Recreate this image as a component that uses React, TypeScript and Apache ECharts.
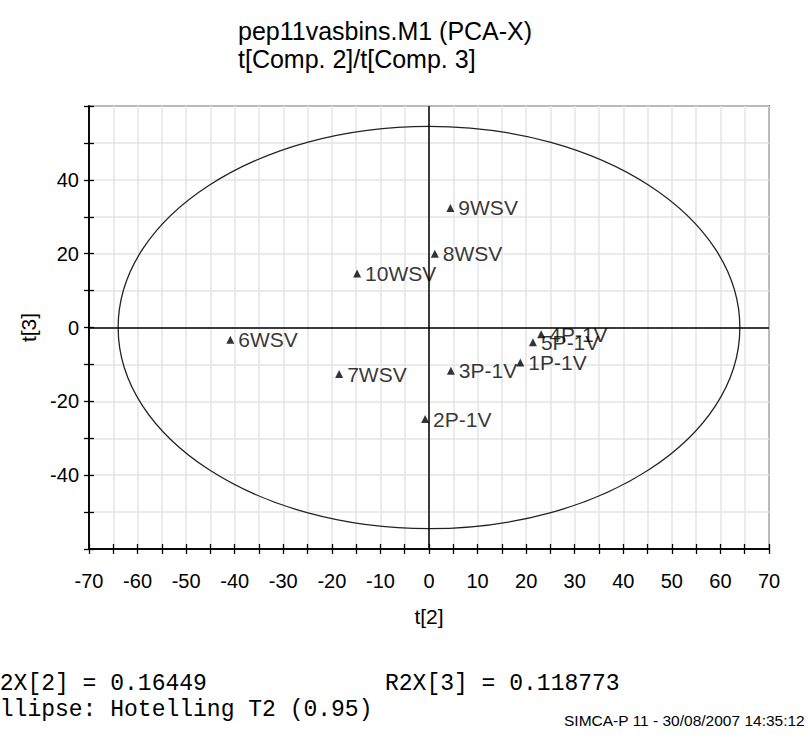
import React, { useEffect, useRef } from "react";
import * as echarts from "echarts";

const titleLines = ["pep11vasbins.M1 (PCA-X)", "t[Comp. 2]/t[Comp. 3]"];
const xName = "t[2]";
const yName = "t[3]";
const names = ["9WSV", "8WSV", "10WSV", "6WSV", "7WSV", "3P-1V", "1P-1V", "4P-1V", "5P-1V", "2P-1V"];
const t2 = [4.4, 1.2, -14.8, -40.9, -18.5, 4.5, 18.8, 23.1, 21.4, -0.8];
const t3 = [32.4, 20.0, 14.6, -3.3, -12.6, -11.7, -9.5, -1.8, -4.0, -24.8];
const ellipseAxes = [64, 54.5]; // Hotelling T2 (0.95) semi-axes in t[2], t[3] units
const footerLeft = ["R2X[2] = 0.16449", "Ellipse: Hotelling T2 (0.95)"];
const footerRight = "R2X[3] = 0.118773";
const stamp = "SIMCA-P 11 - 30/08/2007 14:35:12";

const SANS = "'Liberation Sans', Arial, sans-serif";
const MONO = "'Liberation Mono', 'Courier New', monospace";

export default function App() {
  const ref = useRef<HTMLDivElement>(null);
  useEffect(() => {
    if (!ref.current) return;
    const chart = echarts.init(ref.current, undefined, { renderer: "svg" });
    const pts = names.map((n, i) => ({ name: n, value: [t2[i], t3[i]] }));
    const xBase = {
      type: "value",
      min: -70,
      max: 70,
      interval: 5,
      position: "bottom",
      axisLine: { show: true, onZero: false, lineStyle: { color: "#000", width: 1.5 } },
    };
    const yBase = {
      type: "value",
      min: -60,
      max: 60,
      interval: 10,
      position: "left",
      axisLine: { show: true, onZero: false, lineStyle: { color: "#000", width: 1.5 } },
    };
    chart.setOption({
      animation: false,
      backgroundColor: "#fff",
      title: {
        text: titleLines.join("\n"),
        left: 233,
        top: 12,
        textStyle: { fontFamily: SANS, fontSize: 25, fontWeight: "normal", color: "#000", lineHeight: 28 },
      },
      grid: {
        left: 89,
        right: 39,
        top: 106,
        bottom: 186,
        show: true,
        borderColor: "#000",
        borderWidth: 1.5,
        backgroundColor: "#fff",
      },
      xAxis: [
        {
          ...xBase,
          name: xName,
          nameLocation: "middle",
          nameGap: 57,
          nameTextStyle: { fontFamily: SANS, fontSize: 21, color: "#000" },
          axisTick: { show: true, inside: false, length: 5, lineStyle: { color: "#000", width: 1.3 } },
          axisLabel: {
            margin: 22,
            fontFamily: SANS,
            fontSize: 20,
            color: "#000",
            formatter: (v: number) => (v % 10 === 0 ? String(v) : ""),
          },
          splitLine: { show: true, lineStyle: { color: "#e4e4e4", width: 1.5 } },
        },
        {
          ...xBase,
          axisTick: { show: true, inside: true, length: 5, lineStyle: { color: "#000", width: 1.3 } },
          axisLabel: { show: false },
          splitLine: { show: false },
        },
      ],
      yAxis: [
        {
          ...yBase,
          name: yName,
          nameLocation: "middle",
          nameGap: 49,
          nameTextStyle: { fontFamily: SANS, fontSize: 21, color: "#000" },
          axisTick: { show: true, inside: false, length: 5, lineStyle: { color: "#000", width: 1.3 } },
          axisLabel: {
            margin: 10,
            fontFamily: SANS,
            fontSize: 20,
            color: "#000",
            formatter: (v: number) => (v % 20 === 0 && Math.abs(v) < 60 ? String(v) : ""),
          },
          splitLine: { show: true, lineStyle: { color: "#e4e4e4", width: 1.5 } },
        },
        {
          ...yBase,
          axisTick: { show: true, inside: true, length: 5, lineStyle: { color: "#000", width: 1.3 } },
          axisLabel: { show: false },
          splitLine: { show: false },
        },
      ],
      series: [
        {
          type: "custom",
          xAxisIndex: 0,
          yAxisIndex: 0,
          silent: true,
          data: [[0, 0]],
          renderItem: (params: any, api: any) => {
            const c = api.coord([api.value(0), api.value(1)]);
            const s = api.size([ellipseAxes[0], ellipseAxes[1]]);
            return {
              type: "ellipse",
              shape: { cx: c[0], cy: c[1], rx: s[0], ry: s[1] },
              style: { fill: "none", stroke: "#222", lineWidth: 1.3 },
            };
          },
          z: 3,
        },
        {
          type: "scatter",
          xAxisIndex: 0,
          yAxisIndex: 0,
          symbol: "triangle",
          symbolSize: [8, 8],
          itemStyle: { color: "#000" },
          data: pts,
          z: 5,
          label: {
            show: true,
            position: "right",
            distance: 4,
            formatter: (p: any) => p.name,
            fontFamily: SANS,
            fontSize: 21,
            color: "#000",
          },
          labelLayout: { hideOverlap: false },
          markLine: {
            silent: true,
            symbol: "none",
            label: { show: false },
            lineStyle: { color: "#000", width: 1.5, type: "solid" },
            data: [{ xAxis: 0 }, { yAxis: 0 }],
          },
        },
      ],
      graphic: [
        {
          type: "text",
          left: -14,
          top: 672,
          style: { text: footerLeft[0], font: `23px ${MONO}`, fill: "#000" },
        },
        {
          type: "text",
          left: -14,
          top: 698,
          style: { text: footerLeft[1], font: `23px ${MONO}`, fill: "#000" },
        },
        {
          type: "text",
          left: 385,
          top: 672,
          style: { text: footerRight, font: `23px ${MONO}`, fill: "#000" },
        },
        {
          type: "text",
          right: 3,
          top: 712,
          style: { text: stamp, font: `15.5px ${SANS}`, fill: "#000" },
        },
      ],
    });
    return () => chart.dispose();
  }, []);
  return <div ref={ref} style={{ position: "fixed", left: 0, top: 0, width: 808, height: 735 }} />;
}
